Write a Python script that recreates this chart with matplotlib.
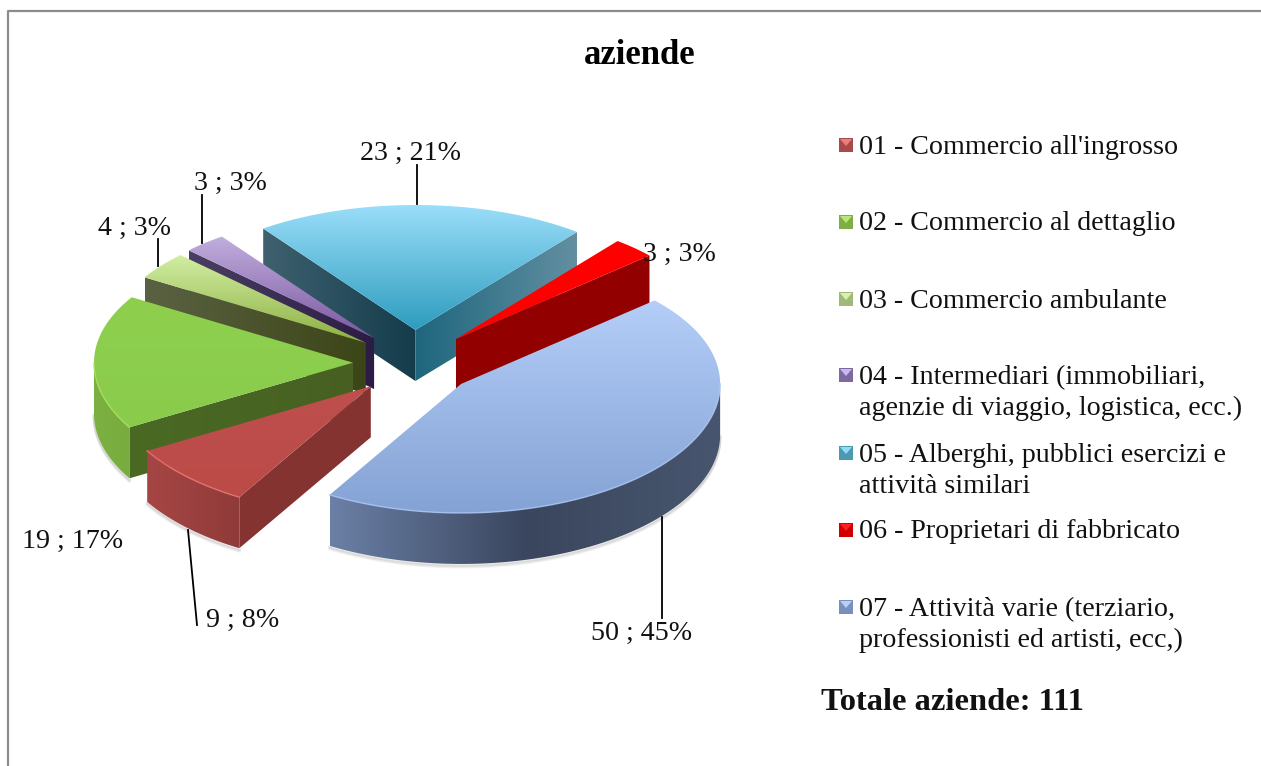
import numpy as np
import matplotlib
matplotlib.use('Agg')
import matplotlib.pyplot as plt
from matplotlib.colors import LinearSegmentedColormap
from matplotlib.patches import Polygon, Rectangle

plt.rcParams['font.family'] = ['Liberation Serif', 'DejaVu Serif']

# data
values = [9, 19, 4, 3, 23, 3, 50]
percents = [8, 17, 3, 3, 21, 3, 45]
legend_labels = ["01 - Commercio all'ingrosso", '02 - Commercio al dettaglio', '03 - Commercio ambulante',
                 '04 - Intermediari (immobiliari,\nagenzie di viaggio, logistica, ecc.)',
                 '05 - Alberghi, pubblici esercizi e\nattività similari', '06 - Proprietari di fabbricato',
                 '07 - Attività varie (terziario,\nprofessionisti ed artisti, ecc,)']
legend_y = [145, 222, 299, 391, 469, 530, 623]
title = 'aziende'
total_label = 'Totale aziende: 111'

# colours of each slice: top face (back to front), a1 wall, a2 wall, rim (left to right)
top_colors = [['#BE4F4C', '#BC4B48'], ['#8ED04E', '#8ACB4C'], ['#D2EEA4', '#8CAF40'], ['#C2AEDE', '#7A58A0'],
              ['#9ADEFA', '#2E9CBE'], ['#FF0000', '#FF0000'], ['#B4CEF8', '#84A2D4']]
wall1_colors = [['#843331', '#843331'], ['#4A6A24', '#476022'], ['#5A6243', '#3C4516'], ['#4A3F62', '#2C1C45'],
                ['#3F6170', '#143C4B'], ['#920000', '#920000'], ['#3A465E', '#3A465E']]
wall2_colors = [['#843331', '#843331'], ['#4A6A24', '#4A6A24'], ['#5A6243', '#5A6243'], ['#4A3F62', '#4A3F62'],
                ['#1E667D', '#638FA1'], ['#920000', '#920000'], ['#3A465E', '#3A465E']]
rim_colors = [['#A64644', '#8F3B39'], ['#7CB142', '#78AC3E'], ['#5A6243', '#5A6243'], ['#4A3F62', '#4A3F62'],
              ['#3F6170', '#638FA1'], ['#920000', '#920000'], ['#6B80A6', '#3A465E', '#47566E']]
shine_colors = ['#E87470', '#A8E060', '#E0F4C0', '#D0C0E8', '#B0E8FC', '#FF0000', '#A8C4F4']
marker_colors = ['#A84A48', '#7FAE45', '#A0B878', '#7E68A0', '#4B9AB0', '#D00000', '#7A8FBC']
marker_lights = ['#E88080', '#B8E878', '#D8F0B0', '#C8B8F0', '#90DCF8', '#FF2020', '#B8D0F8']

# pie geometry in pixels
CX, CY = 414, 363
RX, RY = 259, 127
EX, EY = 61, 33
DEPTH = 51
FIRST_ANGLE = 210.5

fig = plt.figure(figsize=(12.61, 7.66), dpi=100)
ax = fig.add_axes([0, 0, 1, 1])
ax.axis('off')

z = [10]


def next_z():
    z[0] += 1
    return z[0]


def gradient(poly, colors, vertical):
    # fills a polygon with a linear gradient through a clipped image
    x0, y0 = poly.min(axis=0)
    x1, y1 = poly.max(axis=0)
    cmap = LinearSegmentedColormap.from_list('g', colors)
    ramp = np.linspace(0, 1, 256)
    ramp = ramp[:, None] if vertical else ramp[None, :]
    im = ax.imshow(ramp, cmap=cmap, vmin=0, vmax=1, extent=(x0, x1, y1, y0), aspect='auto', zorder=next_z(),
                   interpolation='bilinear')
    edge = Polygon(poly, closed=True, transform=ax.transData, facecolor='none', edgecolor='none')
    ax.add_patch(edge)
    im.set_clip_path(edge)


def rim_points(x0, y0, a1, a2):
    # front of the ellipse is a little deeper than the back
    t = np.radians(np.linspace(a1, a2, 160))
    return np.column_stack([x0 + RX * np.sin(t), y0 - (RY - 2 * np.cos(t)) * np.cos(t)])


def draw_slice(i, a1, a2):
    mid = np.radians((a1 + a2) / 2)
    apex = np.array([CX + EX * np.sin(mid), CY - EY * np.cos(mid)])
    arc = rim_points(apex[0], apex[1], a1, a2)
    down = np.array([0, DEPTH])

    # only the front half of the rim can be seen
    f1, f2 = max(a1, 90), min(a2, 270)
    has_front = f1 < f2
    if has_front:
        front = rim_points(apex[0], apex[1], f1, f2)
        for k in range(1, 5):
            ax.plot(front[:, 0], front[:, 1] + DEPTH + k * 0.8, color='k', alpha=0.045, lw=2, zorder=next_z())

    # radial walls, only those facing the viewer
    if np.sin(np.radians(a1)) < 0:
        gradient(np.vstack([apex, arc[0], arc[0] + down, apex + down]), wall1_colors[i], False)
    if np.sin(np.radians(a2)) > 0:
        gradient(np.vstack([apex, arc[-1], arc[-1] + down, apex + down]), wall2_colors[i], False)
    if has_front:
        gradient(np.vstack([front, front[::-1] + down]), rim_colors[i], False)
    gradient(np.vstack([apex, arc]), top_colors[i], True)
    if has_front:
        ax.plot(front[:, 0], front[:, 1], color=shine_colors[i], lw=1.1, alpha=0.8, zorder=next_z())


# slice angles clockwise from the top, drawn from back to front
sweeps = np.array(values) / sum(values) * 360
starts = (FIRST_ANGLE + np.concatenate([[0], np.cumsum(sweeps)[:-1]])) % 360
mids = np.radians(starts + sweeps / 2)
for i in np.argsort(-np.cos(mids)):
    draw_slice(i, starts[i], starts[i] + sweeps[i])

# frame
ax.plot([8, 8, 1261], [766, 10.5, 10.5], color='#8C8C8C', lw=1.6, zorder=1)

# data labels and leader lines
label_x = [243, 73, 134, 230, 410, 679, 642]
label_y = [620, 541, 228, 183, 153, 254, 633]
for i in range(len(values)):
    ax.text(label_x[i], label_y[i], '%d ; %d%%' % (values[i], percents[i]), fontsize=20.2, ha='center', va='center',
            color='#111111', zorder=200)
leaders_x = [[188, 197], [158, 158], [202, 202], [417, 417], [662, 662]]
leaders_y = [[530, 625], [239, 266], [195, 243], [165, 204], [517, 618]]
for lx, ly in zip(leaders_x, leaders_y):
    ax.plot(lx, ly, color='k', lw=1.3, zorder=5)

# title and legend
ax.text(640, 56, title, fontsize=25, fontweight='bold', ha='center', va='center', color='k', zorder=200)
for i, lab in enumerate(legend_labels):
    ax.text(859, legend_y[i] + 2, lab, fontsize=20.2, ha='left', va='center', color='#111111', linespacing=1.33,
            zorder=200)
    my = legend_y[i] - (16 if '\n' in lab else 0)
    ax.add_patch(Rectangle((839, my - 7), 14, 14, facecolor=marker_colors[i], edgecolor='none', zorder=200))
    ax.add_patch(Polygon([(840, my - 6), (852, my - 6), (846, my + 1)], closed=True, facecolor=marker_lights[i],
                         edgecolor='none', zorder=201))
ax.text(821, 703, total_label, fontsize=23.4, fontweight='bold', ha='left', va='center', color='#111111', zorder=200)

ax.set_xlim(0, 1261)
ax.set_ylim(766, 0)
fig.savefig('out.png', dpi=100, facecolor='white')
